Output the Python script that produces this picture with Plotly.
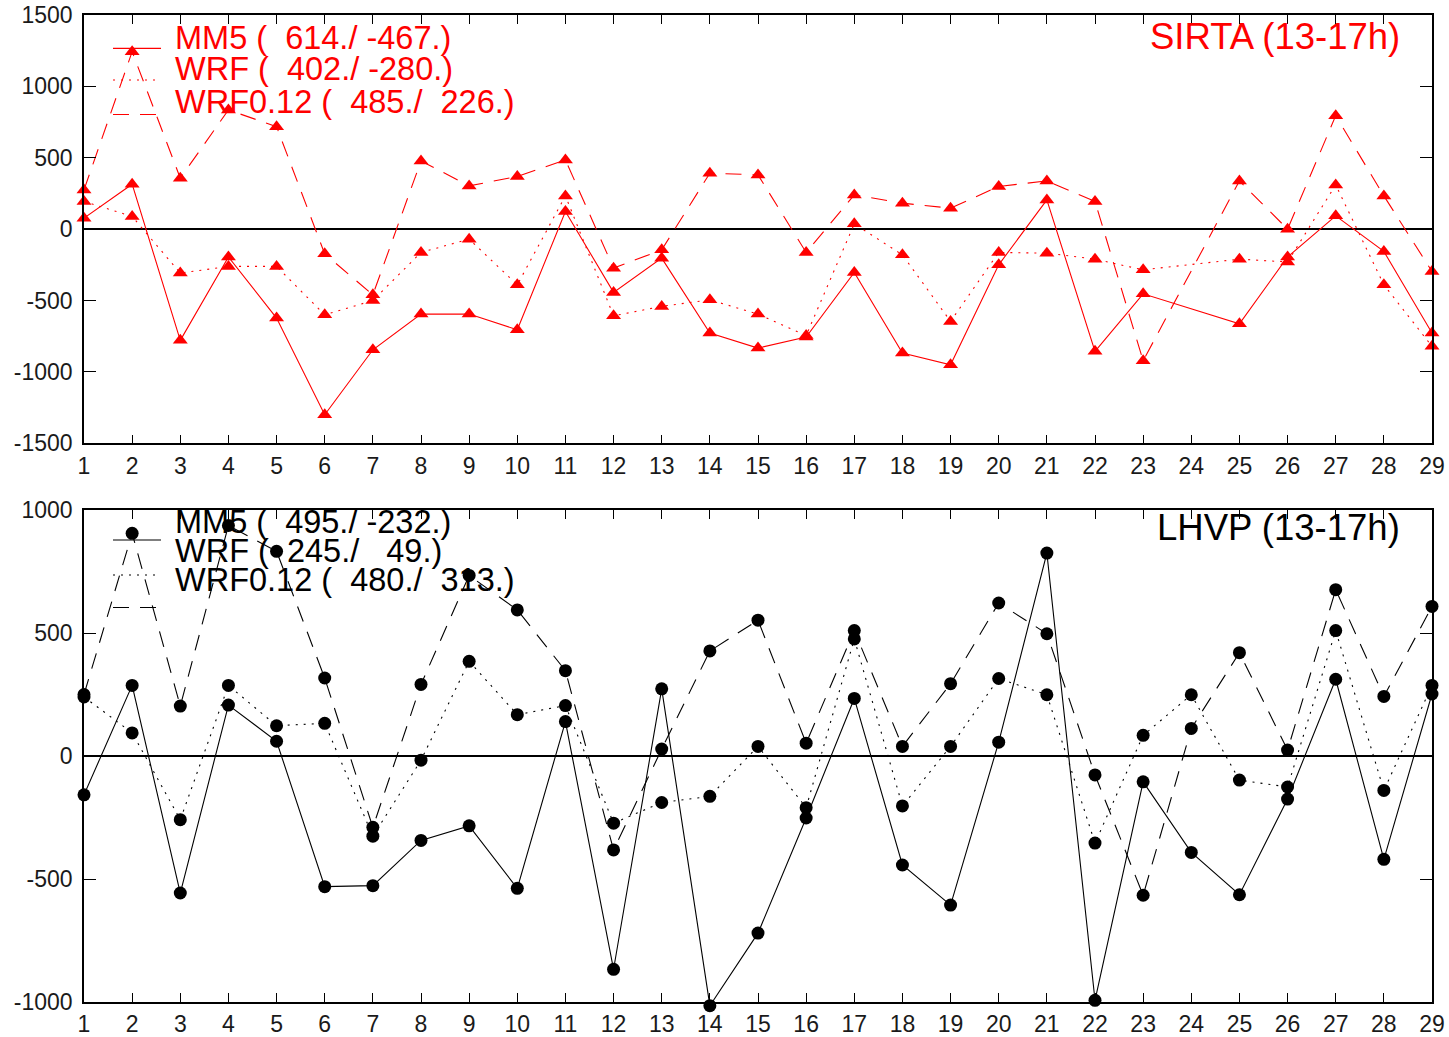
import plotly.graph_objects as go

# Day of month
days = [1, 2, 3, 4, 5, 6, 7, 8, 9, 10, 11, 12, 13, 14, 15, 16, 17, 18, 19, 20,
        21, 22, 23, 24, 25, 26, 27, 28, 29]

# SIRTA (13-17h) model minus observation, day 24 missing
sirta_mm5 = [77, 315, -779, -195, -623, -1300, -845, -595, -595, -705, 124, -443, -203,
             -728, -833, -756, -303, -868, -950, -250, 205, -856, -453, None, -663, -195,
             93, -156, -728]
sirta_wrf = [194, 89, -308, -261, -261, -600, -500, -163, -70, -390, 233, -607, -541,
             -495, -595, -745, 37, -180, -646, -163, -168, -210, -285, None, -210, -230,
             310, -390, -821]
sirta_wrf012 = [275, 1243, 357, 835, 718, -173, -460, 478, 303, 369, 485, -273, -145,
                392, 380, -163, 240, 182, 147, 299, 338, 194, -922, None, 338, 0,
                795, 233, -296]

# LHVP (13-17h)
lhvp_mm5 = [-158, 287, -557, 207, 60, -531, -527, -343, -284, -538, 140, -867, 273,
            -1015, -720, -252, 234, -443, -606, 56, 825, -993, -105, -392, -564, -175,
            312, -420, 252]
lhvp_wrf = [240, 94, -259, 287, 123, 133, -326, -17, 385, 168, 205, -273, -189,
            -164, 39, -210, 476, -203, 39, 315, 249, -354, 84, 249, -98, -126,
            510, -140, 287]
lhvp_wrf012 = [250, 905, 203, 937, 832, 317, -290, 291, 734, 594, 347, -382, 28,
               427, 552, 52, 510, 39, 294, 622, 497, -77, -566, 112, 420, 24,
               676, 242, 608]

# Model names and (rms / mean) statistics shown in each panel
model_names = ["MM5", "WRF", "WRF0.12"]
sirta_rms = [614, 402, 485]
sirta_mean = [-467, -280, 226]
lhvp_rms = [495, 245, 480]
lhvp_mean = [-232, 49, 313]

panel_titles = ["SIRTA (13-17h)", "LHVP (13-17h)"]

x_ticks = days
y_ticks_top = [-1500, -1000, -500, 0, 500, 1000, 1500]
y_ticks_bot = [-1000, -500, 0, 500, 1000]
y_range_top = [-1500, 1500]
y_range_bot = [-1000, 1000]

W, H = 1449, 1037
ML, MR, MT, MB = 84, 17, 15, 15
PW, PH = W - ML - MR, H - MT - MB


def px(xp):
    return (xp - ML) / PW


def py(yp):
    return (H - MB - yp) / PH


RED = "#ff0000"
BLACK = "#000000"
FONT = "Liberation Sans, Arial, Helvetica, sans-serif"
DOT = "2px,6px"
DASH = "16px,11px"

# panel frames in pixels
top_top_px, top_bottom_px = 15, 443.3
bot_top_px, bot_bottom_px = 510, 1002

# the lower panel's points are drawn on a hidden axis with the same scale that
# extends down to the page edge, so markers just below the frame stay visible
units_per_px = (y_range_bot[1] - y_range_bot[0]) / (bot_bottom_px - bot_top_px)
y3_low = y_range_bot[0] - (H - MB - bot_bottom_px) * units_per_px

fig = go.Figure()

styles = ["solid", DOT, DASH]
top_series = [sirta_mm5, sirta_wrf, sirta_wrf012]
bot_series = [lhvp_mm5, lhvp_wrf, lhvp_wrf012]

for name, vals, dash in zip(model_names, top_series, styles):
    fig.add_trace(go.Scatter(
        x=days, y=vals, name=name, mode="lines+markers", connectgaps=True,
        line=dict(color=RED, width=1.1, dash=dash),
        marker=dict(symbol="triangle-up", size=13, color=RED),
        cliponaxis=False, xaxis="x", yaxis="y", showlegend=False))

# empty trace so the lower framed panel (x2, y2) is built
fig.add_trace(go.Scatter(x=[], y=[], xaxis="x2", yaxis="y2", showlegend=False,
                         hoverinfo="skip"))

for name, vals, dash in zip(model_names, bot_series, styles):
    fig.add_trace(go.Scatter(
        x=days, y=vals, name=name, mode="lines+markers", connectgaps=True,
        line=dict(color=BLACK, width=1.1, dash=dash),
        marker=dict(symbol="circle", size=13, color=BLACK),
        cliponaxis=False, xaxis="x2", yaxis="y3", showlegend=False))

axis_common = dict(showline=True, linecolor=BLACK, linewidth=1.6, mirror="ticks",
                   ticks="inside", tickcolor=BLACK, tickwidth=1.3, showgrid=False,
                   automargin=False,
                   tickfont=dict(family=FONT, size=23, color="#1a1a1a"))

fig.update_layout(
    width=W, height=H,
    margin=dict(l=ML, r=MR, t=MT, b=MB),
    paper_bgcolor="white", plot_bgcolor="rgba(0,0,0,0)",
    xaxis=dict(domain=[0, 1], anchor="y", range=[1, 29], tickvals=x_ticks,
               ticktext=[str(v) for v in x_ticks], ticklen=9, zeroline=False,
               ticklabelstandoff=1, **axis_common),
    yaxis=dict(domain=[py(top_bottom_px), py(top_top_px)], anchor="x",
               range=y_range_top, tickvals=y_ticks_top,
               ticktext=[str(v) for v in y_ticks_top],
               ticklen=12, zeroline=True, zerolinecolor=BLACK, zerolinewidth=1.5,
               ticklabelstandoff=5, **axis_common),
    xaxis2=dict(domain=[0, 1], anchor="y2", range=[1, 29], tickvals=x_ticks,
                ticktext=[str(v) for v in x_ticks], ticklen=9, zeroline=False,
                ticklabelstandoff=1, **axis_common),
    yaxis2=dict(domain=[py(bot_bottom_px), py(bot_top_px)], anchor="x2",
                range=y_range_bot, tickvals=y_ticks_bot,
                ticktext=[str(v) for v in y_ticks_bot],
                ticklen=12, zeroline=True, zerolinecolor=BLACK, zerolinewidth=1.5,
                ticklabelstandoff=5, **axis_common),
    yaxis3=dict(domain=[0, py(bot_top_px)], anchor="x2", range=[y3_low, y_range_bot[1]],
                visible=False, showgrid=False, zeroline=False, automargin=False),
)


def stat_label(name, rms, mean):
    txt = f"{name} ({rms:5d}./{mean:5d}.)"
    return txt.replace(" ", "\u00a0")


annotations = []
shapes = []

# Panel legends: text lines plus line-style samples
top_text_y = [37.5, 69.5, 102]
top_sample_y = [48.3, 80, 114.5]
bot_text_y = [522, 551.5, 580]
bot_sample_y = [540, 575, 607.5]

for names, rmss, means, ty, sy, col in [
        (model_names, sirta_rms, sirta_mean, top_text_y, top_sample_y, RED),
        (model_names, lhvp_rms, lhvp_mean, bot_text_y, bot_sample_y, BLACK)]:
    for name, r, m, t, s, dash in zip(names, rmss, means, ty, sy, styles):
        annotations.append(dict(
            x=px(173), y=py(t), xref="paper", yref="paper", xanchor="left",
            yanchor="middle", showarrow=False, text=stat_label(name, r, m),
            font=dict(family=FONT, size=32.5, color=col)))
        shapes.append(dict(
            type="line", xref="paper", yref="paper", x0=px(113), x1=px(161),
            y0=py(s), y1=py(s), line=dict(color=col, width=1.2, dash=dash)))

annotations.append(dict(
    x=px(1402), y=py(36), xref="paper", yref="paper", xanchor="right",
    yanchor="middle", showarrow=False, text=panel_titles[0],
    font=dict(family=FONT, size=36.5, color=RED)))
annotations.append(dict(
    x=px(1402), y=py(527.5), xref="paper", yref="paper", xanchor="right",
    yanchor="middle", showarrow=False, text=panel_titles[1],
    font=dict(family=FONT, size=36.5, color=BLACK)))

fig.update_layout(annotations=annotations, shapes=shapes)

fig.write_html("out.html")
